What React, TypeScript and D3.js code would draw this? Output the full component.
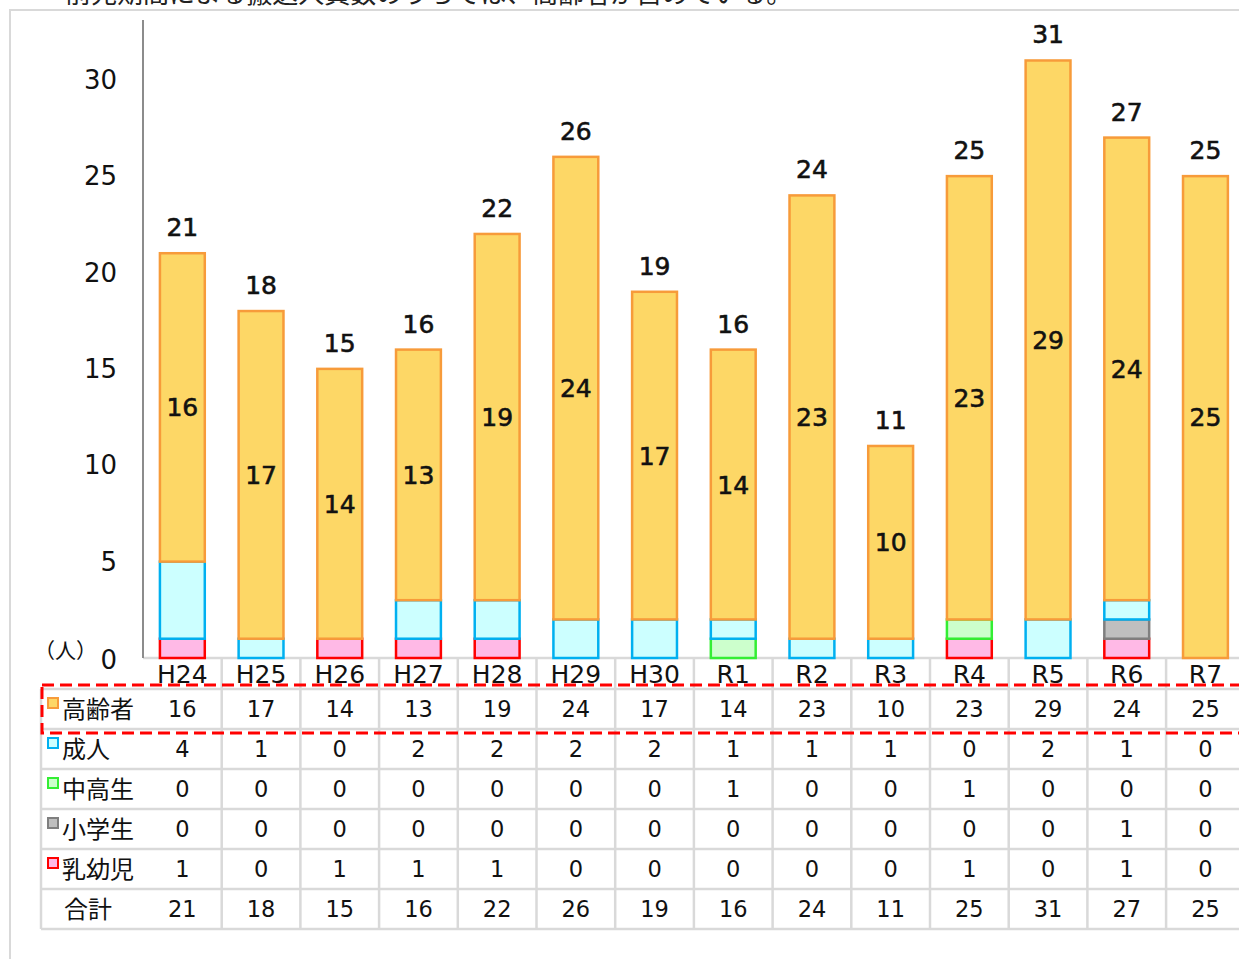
import React from "react";
import * as d3 from "d3";

const categories = ["H24","H25","H26","H27","H28","H29","H30","R1","R2","R3","R4","R5","R6","R7"];
const elderly = [16,17,14,13,19,24,17,14,23,10,23,29,24,25];
const adults = [4,1,0,2,2,2,2,1,1,1,0,2,1,0];
const highSchool = [0,0,0,0,0,0,0,1,0,0,1,0,0,0];
const elementary = [0,0,0,0,0,0,0,0,0,0,0,0,1,0];
const infants = [1,0,1,1,1,0,0,0,0,0,1,0,1,0];
const totals = [21,18,15,16,22,26,19,16,24,11,25,31,27,25];
const yTicks = [0,5,10,15,20,25,30];

const seriesNames = ["高齢者","成人","中高生","小学生","乳幼児"];
const seriesData = [elderly, adults, highSchool, elementary, infants];
const fills = ["#FDD766","#CCFFFF","#CCFFCC","#BFBFBF","#FFB9E6"];
const strokes = ["#F79B3A","#00B0F0","#33EE33","#7F7F7F","#FF0000"];
const stackOrder = [4,3,2,1,0]; // bottom to top

const W = 1239, H = 959;
const FONT = "'DejaVu Sans', 'Noto Sans CJK JP', sans-serif";
const CJK = "'Noto Sans CJK JP', sans-serif";

export default function App() {
  const x0 = 143;
  const cellW = 78.7;
  const x = d3.scaleBand<string>().domain(categories).range([x0, x0 + cellW * categories.length]).paddingInner(0.43).paddingOuter(0.215);
  const y = d3.scaleLinear().domain([0, 33.1]).range([658, 20]);

  const rowTop = 689;
  const rowH = 40;
  const tableRows = [...seriesNames, "合計"];
  const tableData = [...seriesData, totals];
  const tableBottom = rowTop + rowH * tableRows.length;

  const bars: JSX.Element[] = [];
  categories.forEach((c, i) => {
    let base = 0;
    stackOrder.forEach((s) => {
      const v = seriesData[s][i];
      if (v > 0) {
        bars.push(
          <rect key={c + s} x={x(c)} y={y(base + v)} width={x.bandwidth()} height={y(base) - y(base + v)}
            fill={fills[s]} stroke={strokes[s]} strokeWidth={2.5} />
        );
      }
      base += v;
    });
  });

  const labelStyle = { fontSize: 25, fill: "#111", stroke: "#111", strokeWidth: 0.6 } as const;

  return (
    <svg width={W} height={H} style={{ position: "absolute", left: 0, top: 0, background: "#fff" }} fontFamily={FONT}>
      <text x={65} y={3} fontSize={26} fill="#222" fontFamily={CJK}>前兆期間による搬送人員数のうちでは、高齢者が占めている。</text>
      <rect x={10} y={10} width={1300} height={1000} fill="#fff" stroke="#D9D9D9" strokeWidth={2} />

      {/* table grid */}
      <g stroke="#D9D9D9" strokeWidth={2.5}>
        <line x1={x0} x2={W} y1={658} y2={658} />
        {tableRows.map((_, r) => (
          <line key={"h" + r} x1={41} x2={W} y1={rowTop + r * rowH} y2={rowTop + r * rowH} />
        ))}
        <line x1={41} x2={W} y1={tableBottom} y2={tableBottom} />
        <line x1={41} x2={41} y1={rowTop} y2={tableBottom} />
        {categories.map((c, i) => (
          <line key={"v" + i} x1={x0 + cellW * (i + 1)} x2={x0 + cellW * (i + 1)} y1={658} y2={tableBottom} />
        ))}
      </g>

      {bars}

      <line x1={x0} x2={x0} y1={20} y2={658} stroke="#8C8C8C" strokeWidth={2} />
      {yTicks.map((t) => (
        <text key={t} x={117} y={t === 0 ? 660 : y(t)} dy="0.35em" textAnchor="end" fontSize={26} fill="#111">{t}</text>
      ))}
      <text x={34} y={651} dy="0.35em" fontSize={21} fill="#111" fontFamily={CJK}>（人）</text>

      {/* total labels */}
      {categories.map((c, i) => (
        <text key={"t" + c} x={x(c)! + x.bandwidth() / 2} y={y(totals[i]) - 17} textAnchor="middle" {...labelStyle}>{totals[i]}</text>
      ))}
      {/* elderly labels */}
      {categories.map((c, i) => {
        const below = adults[i] + highSchool[i] + elementary[i] + infants[i];
        return (
          <text key={"e" + c} x={x(c)! + x.bandwidth() / 2} y={y(below + elderly[i] / 2)} dy="0.36em" textAnchor="middle" {...labelStyle}>{elderly[i]}</text>
        );
      })}

      {/* header row */}
      {categories.map((c, i) => (
        <text key={"c" + c} x={x0 + cellW * (i + 0.5)} y={683} textAnchor="middle" fontSize={25} fill="#111">{c}</text>
      ))}

      {/* table rows */}
      {tableRows.map((name, r) => {
        const cy = rowTop + r * rowH + rowH / 2;
        return (
          <g key={"r" + r}>
            {r < seriesNames.length ? (
              <>
                <rect x={48} y={cy - 11} width={10} height={10} fill={fills[r]} stroke={strokes[r]} strokeWidth={2} />
                <text x={62} y={cy} dy="0.36em" fontSize={24} fill="#111" fontFamily={CJK}>{name}</text>
              </>
            ) : (
              <text x={88} y={cy} dy="0.36em" textAnchor="middle" fontSize={24} fill="#111" fontFamily={CJK}>{name}</text>
            )}
            {tableData[r].map((v, i) => (
              <text key={i} x={x0 + cellW * (i + 0.5)} y={cy} dy="0.36em" textAnchor="middle" fontSize={22.5} fill="#111">{v}</text>
            ))}
          </g>
        );
      })}

      {/* red dashed highlight */}
      <rect x={42} y={685} width={1300} height={48} fill="none" stroke="#FF0000" strokeWidth={3} strokeDasharray="12 6" />
    </svg>
  );
}
